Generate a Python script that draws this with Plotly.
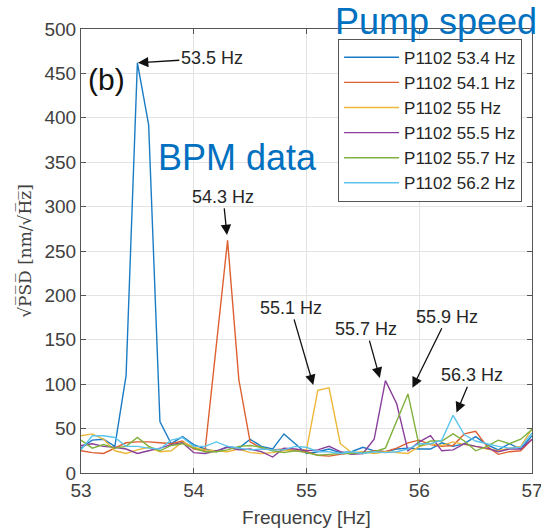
import plotly.graph_objects as go

freq = [round(53.0 + 0.1 * i, 1) for i in range(41)]

names = ["P1102 53.4 Hz", "P1102 54.1 Hz", "P1102 55 Hz",
         "P1102 55.5 Hz", "P1102 55.7 Hz", "P1102 56.2 Hz"]
colors = ["#1a7cc4", "#DD6030", "#EDB83a", "#8a3f9a", "#80b13e", "#5cc4ee"]

psd_534 = [28, 37, 38, 30, 110, 462, 392, 58, 33, 41, 32, 27, 24, 30, 28, 38, 30, 27, 44, 33,
           22, 24, 27, 23, 24, 29, 25, 24, 27, 28, 27, 27, 34, 30, 33, 41, 32, 26, 33, 27, 42]
psd_541 = [25, 23, 22, 28, 34, 35, 35, 34, 33, 36, 27, 25, 145, 262, 105, 35, 28, 26, 27, 25,
           24, 20, 19, 21, 23, 22, 25, 24, 28, 34, 37, 32, 30, 31, 44, 47, 30, 21, 24, 25, 38]
psd_550 = [42, 44, 38, 25, 22, 26, 29, 24, 25, 35, 29, 26, 25, 24, 27, 23, 22, 23, 25, 26,
           26, 93, 96, 33, 23, 24, 22, 24, 23, 22, 30, 33, 31, 35, 32, 30, 27, 25, 28, 30, 50]
psd_555 = [31, 33, 30, 29, 27, 22, 25, 28, 32, 34, 23, 22, 25, 29, 26, 27, 24, 18, 28, 27,
           25, 26, 30, 24, 21, 22, 38, 104, 78, 25, 35, 42, 25, 26, 33, 30, 28, 24, 27, 27, 38]
psd_557 = [37, 28, 32, 28, 30, 40, 30, 25, 31, 33, 28, 24, 24, 26, 30, 31, 29, 25, 23, 25,
           23, 20, 21, 22, 22, 23, 24, 28, 58, 89, 30, 36, 36, 44, 36, 25, 30, 37, 33, 38, 49]
psd_562 = [26, 42, 42, 40, 30, 30, 28, 27, 37, 40, 30, 30, 35, 30, 28, 26, 27, 26, 26, 30,
           29, 24, 24, 22, 24, 22, 24, 23, 24, 27, 33, 33, 37, 65, 43, 36, 33, 30, 28, 29, 45]
series = [psd_534, psd_541, psd_550, psd_555, psd_557, psd_562]

# annotations: (label, tip x, tip y, text x, text y)
peak_labels = [
    ("53.5 Hz", 53.505, 462, 54.16, 467),
    ("54.3 Hz", 54.295, 268, 54.26, 311),
    ("55.1 Hz", 55.06, 99, 54.86, 186),
    ("55.7 Hz", 55.65, 107, 55.53, 162),
    ("55.9 Hz", 55.94, 96, 56.25, 176),
    ("56.3 Hz", 56.33, 68, 56.47, 110),
]

font_main = "Liberation Sans, Arial, sans-serif"

fig = go.Figure()
for name, col, ys in zip(names, colors, series):
    fig.add_trace(go.Scatter(x=freq, y=ys, mode="lines", name=name,
                             line=dict(color=col, width=1.4)))

for lab, x, y, tx, ty in peak_labels:
    fig.add_annotation(x=x, y=y, ax=tx, ay=ty, axref="x", ayref="y", xref="x", yref="y",
                       text=lab, showarrow=True, arrowhead=2, arrowsize=1.6,
                       arrowwidth=1.3, arrowcolor="#111111",
                       font=dict(family=font_main, size=18, color="#262626"))

fig.add_annotation(x=53.23, y=443, xref="x", yref="y", text="(b)", showarrow=False,
                   font=dict(family=font_main, size=30, color="#111111"))
fig.add_annotation(x=54.39, y=355, xref="x", yref="y", text="BPM data", showarrow=False,
                   font=dict(family=font_main, size=36, color="#0070C0"))
fig.add_annotation(x=0.787, y=1.016, xref="paper", yref="paper", text="Pump speed",
                   xanchor="center", yanchor="middle", showarrow=False,
                   font=dict(family=font_main, size=36, color="#0070C0"))

axis_common = dict(showline=True, linecolor="#555555", linewidth=1, mirror="ticks",
                   ticks="inside", ticklen=5, tickcolor="#555555",
                   showgrid=True, gridcolor="#e3e3e3", gridwidth=1, zeroline=False,
                   ticklabeloverflow="allow", automargin=False,
                   tickfont=dict(family=font_main, size=19, color="#404040"))

fig.update_xaxes(range=[53, 57], dtick=1, tick0=53,
                 title=dict(text="Frequency [Hz]", standoff=10,
                            font=dict(family=font_main, size=19, color="#404040")),
                 **axis_common)
fig.update_yaxes(range=[0, 500], dtick=50, tick0=0,
                 title=dict(text="\u221aP\u0305S\u0305D\u0305 [nm/\u221aH\u0305z\u0305]", standoff=8,
                            font=dict(family="DejaVu Serif, serif", size=17, color="#404040")),
                 **axis_common)

fig.update_layout(
    width=541, height=532,
    margin=dict(l=81, r=9, t=29, b=59),
    plot_bgcolor="white", paper_bgcolor="white",
    legend=dict(x=0.978, y=0.978, xanchor="right", yanchor="top",
                bgcolor="white", bordercolor="#555555", borderwidth=1,
                font=dict(family=font_main, size=17, color="#262626"),
                itemwidth=55, tracegroupgap=0),
    showlegend=True,
)

fig.write_html("out.html")
